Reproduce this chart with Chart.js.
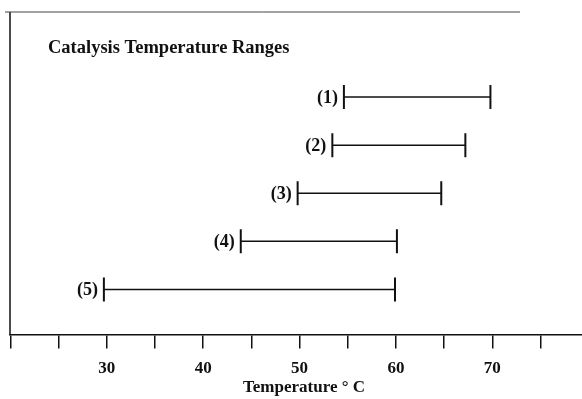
<!DOCTYPE html>
<html>
<head>
<meta charset="utf-8">
<script src="https://cdn.jsdelivr.net/npm/chart.js@4.4.0/dist/chart.umd.min.js"></script>
<style>
  html, body { margin: 0; padding: 0; background: #fff; }
  #wrap { width: 582px; height: 399px; }
</style>
</head>
<body>
<div id="wrap"><canvas id="rangeChart"></canvas></div>
<script>
// catalysis ranges (deg C)
const rangeLabels = ['(1)', '(2)', '(3)', '(4)', '(5)'];
const lowTemps = [54.6, 53.4, 49.8, 43.9, 29.7];
const highTemps = [69.8, 67.2, 64.7, 60.1, 59.9];
const tickLabels = [30, 40, 50, 60, 70];
const chartTitle = 'Catalysis Temperature Ranges';
const axisTitle = 'Temperature \u00b0 C';

const serif = '"Liberation Serif", "Times New Roman", Times, serif';

// one little line dataset per range, with end caps as points
var datasets = rangeLabels.map(function (lab, i) {
  return {
    label: lab,
    data: [{ x: lowTemps[i], y: i + 1 }, { x: highTemps[i], y: i + 1 }],
    borderColor: '#111',
    borderWidth: 1.5,
    pointStyle: 'line',
    pointRotation: 90,
    pointRadius: 12,
    pointBorderWidth: 2,
    pointBorderColor: '#111',
    pointHoverRadius: 12
  };
});

// frame, titles and range labels
const extrasPlugin = {
  id: 'extras',
  afterDraw(chart) {
    const ctx = chart.ctx;
    const area = chart.chartArea;
    ctx.save();
    ctx.strokeStyle = '#111';
    ctx.lineWidth = 1.5;
    ctx.beginPath();
    ctx.moveTo(area.left, area.bottom);
    ctx.lineTo(area.left, area.top);
    ctx.stroke();
    ctx.lineWidth = 1;
    ctx.strokeStyle = '#444';
    ctx.beginPath();
    ctx.moveTo(area.left - 5, area.top);
    ctx.lineTo(520, area.top);
    ctx.stroke();

    ctx.fillStyle = '#111';
    ctx.font = 'bold 18.5px ' + serif;
    ctx.textAlign = 'left';
    ctx.textBaseline = 'middle';
    ctx.fillText(chartTitle, area.left + 38, 48);

    ctx.font = 'bold 17px ' + serif;
    ctx.textAlign = 'center';
    ctx.fillText(axisTitle, 304, 388);

    ctx.font = 'bold 18px ' + serif;
    ctx.textAlign = 'right';
    chart.data.datasets.forEach(function (ds, i) {
      const pt = chart.getDatasetMeta(i).data[0];
      ctx.fillText(ds.label, pt.x - 6, pt.y + 1);
    });
    ctx.restore();
  }
};

try {
  const ctx = document.getElementById('rangeChart');
  new Chart(ctx, {
    type: 'line',
    data: { datasets: datasets },
    options: {
      responsive: true,
      maintainAspectRatio: false,
      animation: false,
      layout: {
        autoPadding: false,
        padding: { left: 10, right: 0, top: 12, bottom: 10 }
      },
      plugins: {
        legend: { display: false },
        title: { display: false },
        tooltip: { enabled: false }
      },
      scales: {
        x: {
          type: 'linear',
          min: 19.96,
          max: 79.3,
          border: { display: true, color: '#111', width: 1.5 },
          grid: {
            display: true,
            drawOnChartArea: false,
            drawTicks: true,
            tickLength: 14,
            color: '#111',
            lineWidth: 1.5
          },
          afterBuildTicks: function (axis) {
            var t = [];
            for (var v = 20; v <= 75; v += 5) t.push({ value: v });
            axis.ticks = t;
          },
          ticks: {
            autoSkip: false,
            maxRotation: 0,
            padding: 10,
            color: '#111',
            font: { family: serif, size: 17, weight: 'bold' },
            callback: function (value) {
              return tickLabels.indexOf(value) >= 0 ? String(value) : '';
            }
          }
        },
        y: {
          type: 'linear',
          display: false,
          reverse: true,
          min: -0.77,
          max: 5.94
        }
      }
    },
    plugins: [extrasPlugin]
  });
} catch (error) {
  console.error('An error occurred while initializing the chart:', error);
}
</script>
</body>
</html>
